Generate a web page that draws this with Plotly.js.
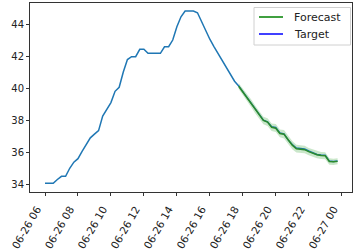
<!DOCTYPE html>
<html>
<head>
<meta charset="utf-8">
<script src="https://cdn.plot.ly/plotly-3.0.1.min.js"></script>
<style>html,body{margin:0;padding:0;background:#fff;}#chart{width:359px;height:250px;}</style>
</head>
<body>
<div id="chart"></div>
<script>
// Target series: 15-minute readings from 2024-06-26 06:00
const targetStart = "2024-06-26T06:00:00";
const stepMinutes = 15;
const targetValues = [
  34.06, 34.06, 34.06, 34.30, 34.50, 34.50, 35.00, 35.38, 35.60, 36.05,
  36.50, 36.90, 37.13, 37.35, 38.26, 38.65, 39.10, 39.80, 40.05, 41.00,
  41.78, 41.96, 41.96, 42.42, 42.42, 42.17, 42.17, 42.17, 42.17, 42.58,
  42.58, 43.00, 43.83, 44.45, 44.81, 44.81, 44.81, 44.70, 44.14, 43.68,
  43.05, 42.59, 42.15, 41.70, 41.26, 40.82, 40.43, 40.14, 39.78, 39.42,
  39.10, 38.72, 38.36, 38.00, 37.90, 37.59, 37.55, 37.20, 37.15, 36.77,
  36.48, 36.26, 36.23, 36.20, 36.08, 35.97, 35.86, 35.83, 35.82, 35.45,
  35.42, 35.45
];
// Forecast series: starts at 17:45
const forecastStart = "2024-06-26T17:45:00";
const forecastValues = [
  40.12, 39.76, 39.40, 39.06, 38.68, 38.32, 37.98, 37.88, 37.56, 37.50,
  37.17, 37.12, 36.74, 36.44, 36.22, 36.18, 36.16, 36.04, 35.94, 35.84,
  35.80, 35.78, 35.42, 35.40, 35.43
];
const forecastLower = [
  39.95, 39.55, 39.16, 38.82, 38.44, 38.06, 37.74, 37.64, 37.32, 37.26,
  36.93, 36.86, 36.48, 36.18, 35.98, 35.95, 35.93, 35.82, 35.72, 35.62,
  35.58, 35.56, 35.22, 35.21, 35.25
];
const forecastUpper = [
  40.30, 39.98, 39.64, 39.30, 38.92, 38.56, 38.22, 38.12, 37.80, 37.76,
  37.42, 37.38, 37.00, 36.70, 36.46, 36.42, 36.40, 36.27, 36.17, 36.07,
  36.02, 36.00, 35.62, 35.60, 35.62
];
const legendLabels = ["Forecast", "Target"];
const legendColors = ["#008000", "#0000ff"];

function pad(n){return (n<10?"0":"")+n;}
function times(start, count){
  const t0 = new Date(start + "Z").getTime();
  const out = [];
  for (let i = 0; i < count; i++) {
    const d = new Date(t0 + i*stepMinutes*60000);
    out.push(d.getUTCFullYear()+"-"+pad(d.getUTCMonth()+1)+"-"+pad(d.getUTCDate())+" "+pad(d.getUTCHours())+":"+pad(d.getUTCMinutes()));
  }
  return out;
}
const tx = times(targetStart, targetValues.length);
const fx = times(forecastStart, forecastValues.length);

const traces = [
  {x: fx, y: forecastLower, mode: "lines", line: {width: 0, color: "rgba(0,0,0,0)"}, showlegend: false, hoverinfo: "skip"},
  {x: fx, y: forecastUpper, mode: "lines", line: {width: 0, color: "rgba(0,0,0,0)"}, fill: "tonexty", fillcolor: "rgba(44,160,44,0.25)", showlegend: false, hoverinfo: "skip"},
  {x: tx, y: targetValues, mode: "lines", line: {color: "#1f77b4", width: 1.5}, showlegend: false},
  {x: fx, y: forecastValues, mode: "lines", line: {color: "#2a8a2a", width: 1.5}, showlegend: false}
];

// Legend drawn in paper coordinates (plot area: 30..352 px wide, 3..192 px tall)
const W = 322, H = 189;
function px(x){return (x-30)/W;}
function py(y){return (192-y)/H;}
const shapes = [
  {type: "rect", xref: "paper", yref: "paper", x0: px(254), x1: px(350.5), y0: py(45), y1: py(7.5),
   line: {color: "#d0d0d0", width: 1}, fillcolor: "rgba(255,255,255,0.85)", layer: "above"}
];
const annotations = [];
legendLabels.forEach((lab, i) => {
  const yy = 17 + i*17;
  shapes.push({type: "line", xref: "paper", yref: "paper", x0: px(259), x1: px(283), y0: py(yy), y1: py(yy),
    line: {color: legendColors[i], width: 1.5}, layer: "above"});
  annotations.push({xref: "paper", yref: "paper", x: px(292), y: py(yy), xanchor: "left", yanchor: "middle",
    text: lab, showarrow: false, font: {family: "DejaVu Sans", size: 11, color: "#222"}});
});

const layout = {
  width: 359, height: 250,
  margin: {l: 30, r: 7, t: 3, b: 58},
  paper_bgcolor: "#fff", plot_bgcolor: "#fff",
  font: {family: "DejaVu Sans", size: 10, color: "#222"},
  xaxis: {
    type: "date",
    range: ["2024-06-26 05:05:24", "2024-06-27 00:37:30"],
    tick0: "2024-06-26 06:00", dtick: 7200000,
    tickformat: "%m-%d %H", tickangle: -60,
    ticklabelshift: -8, ticklabelstandoff: 3,
    showgrid: false, zeroline: false,
    showline: true, mirror: true, linecolor: "#333", linewidth: 1,
    ticks: "outside", ticklen: 3, tickcolor: "#333",
    tickfont: {size: 10.5, color: "#222"}
  },
  yaxis: {
    range: [33.52, 45.31],
    tick0: 34, dtick: 2,
    showgrid: false, zeroline: false,
    showline: true, mirror: true, linecolor: "#333", linewidth: 1,
    ticks: "outside", ticklen: 3, tickcolor: "#333",
    tickfont: {size: 10, color: "#222"}
  },
  showlegend: false,
  shapes: shapes,
  annotations: annotations
};

Plotly.newPlot("chart", traces, layout, {staticPlot: true, displayModeBar: false});
</script>
</body>
</html>
